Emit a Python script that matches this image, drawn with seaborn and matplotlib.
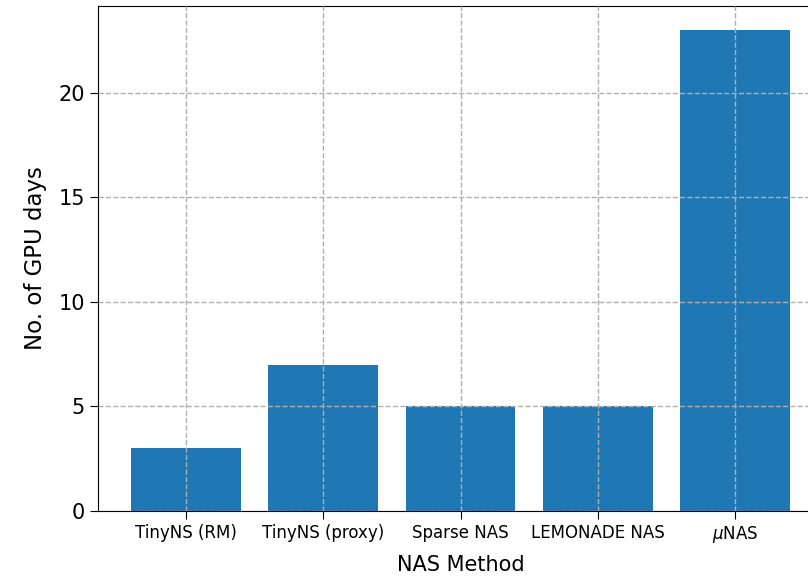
import matplotlib
matplotlib.use("Agg")
import matplotlib.pyplot as plt
import seaborn as sns
import pandas as pd

# GPU-days cost of each neural architecture search method
methods = ["TinyNS (RM)", "TinyNS (proxy)", "Sparse NAS", "LEMONADE NAS", r"$\mu$NAS"]
gpu_days = [3, 7, 5, 5, 23]

df = pd.DataFrame({"method": methods, "days": gpu_days})

fig = plt.figure(figsize=(8.08, 5.79), dpi=100)
ax = fig.add_axes([98 / 808, 1 - 511 / 579, (823 - 98) / 808, (511 - 6) / 579])

sns.barplot(data=df, x="method", y="days", color="#1f77b4", saturation=1,
            width=0.8, ax=ax)

ax.set_xlim(-0.64, len(methods) - 1 + 0.64)
ax.set_ylim(0, max(gpu_days) * 1.05)

ax.grid(True, linestyle="--", color="#b0b0b0", linewidth=1.0)
ax.set_axisbelow(False)

ax.set_xlabel("NAS Method", fontsize=15, labelpad=7)
ax.set_ylabel("No. of GPU days", fontsize=16.5, labelpad=8)
ax.tick_params(axis="both", length=6)
ax.tick_params(axis="x", labelsize=12)
ax.tick_params(axis="y", labelsize=15)

fig.savefig("out.png", dpi=100)
